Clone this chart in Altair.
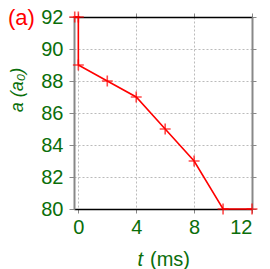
import altair as alt
import pandas as pd

t_ms = [-0.25, 0.0, 0.0, 2.0, 4.0, 6.0, 8.0, 10.0, 12.0]
a_vals = [92.0, 92.0, 89.0, 88.0, 87.0, 85.0, 83.0, 80.0, 80.0]
x_ticks = [0, 4, 8, 12]
y_ticks = [80, 82, 84, 86, 88, 90, 92]

df = pd.DataFrame({"t": t_ms, "a": a_vals, "o": list(range(len(t_ms)))})

GREEN = "#0a6e0a"
RED = "#ff0000"
FONT = "Liberation Sans"

xs = alt.Scale(domain=[-0.3, 12], nice=False, zero=False)
ys = alt.Scale(domain=[80, 92], nice=False, zero=False)

base = alt.Chart(df)

grid = base.mark_point(opacity=0).encode(
    x=alt.X("t:Q", scale=xs, axis=alt.Axis(
        values=x_ticks, title=None, labelColor=GREEN, labelFontSize=20, labelFont=FONT,
        domainColor="black", domainWidth=1.5, tickColor="#888888", tickSize=4,
        gridDash=[2, 2], gridColor="#bbbbbb", labelPadding=4)),
    y=alt.Y("a:Q", scale=ys, axis=alt.Axis(
        values=y_ticks, title=None, labelColor=GREEN, labelFontSize=20, labelFont=FONT,
        domainColor="#888888", domainWidth=2, tickColor="#888888", tickSize=5,
        gridDash=[2, 2], gridColor="#bbbbbb", labelPadding=6)),
)

top_axis = base.mark_point(opacity=0).encode(
    x=alt.X("t:Q", scale=xs, axis=alt.Axis(
        orient="top", values=x_ticks, title=None, labels=False, grid=False,
        domainColor="black", domainWidth=1.5, tickColor="#888888", tickSize=4)),
    y=alt.Y("a:Q", scale=ys, axis=None),
)
right_axis = base.mark_point(opacity=0).encode(
    x=alt.X("t:Q", scale=xs, axis=None),
    y=alt.Y("a:Q", scale=ys, axis=alt.Axis(
        orient="right", values=y_ticks, title=None, labels=False, grid=False,
        domainColor="#888888", domainWidth=2, tickColor="#888888", tickSize=4)),
)

line = base.mark_line(color=RED, strokeWidth=1.6).encode(
    x=alt.X("t:Q", scale=xs, axis=None), y=alt.Y("a:Q", scale=ys, axis=None), order="o:Q")

pts = base.mark_point(shape="M-1,0L1,0M0,-1L0,1", color=RED, filled=False,
                      strokeWidth=1.6, size=120).encode(
    x=alt.X("t:Q", scale=xs, axis=None), y=alt.Y("a:Q", scale=ys, axis=None))

lab_a = alt.Chart(pd.DataFrame({"s": ["(a)"]})).mark_text(
    color=RED, fontSize=22, font=FONT, align="left", baseline="middle").encode(
    text="s:N", x=alt.value(-66), y=alt.value(1))

ytitle = alt.Chart(pd.DataFrame({"s": ["a (a₀)"]})).mark_text(
    color=GREEN, fontSize=18, font=FONT, fontStyle="italic", angle=270,
    align="center", baseline="middle").encode(
    text="s:N", x=alt.value(-56), y=alt.value(73))

xt1 = alt.Chart(pd.DataFrame({"s": ["t"]})).mark_text(
    color=GREEN, fontSize=20, font=FONT, fontStyle="italic", align="right",
    baseline="middle").encode(text="s:N", x=alt.value(69), y=alt.value(243))
xt2 = alt.Chart(pd.DataFrame({"s": ["(ms)"]})).mark_text(
    color=GREEN, fontSize=20, font=FONT, align="left", dx=7,
    baseline="middle").encode(text="s:N", x=alt.value(69), y=alt.value(243))

chart = alt.layer(grid, top_axis, right_axis, line, pts, lab_a, ytitle, xt1, xt2).resolve_axis(
    x="independent", y="independent"
).properties(
    width=178, height=192, autosize="none",
    padding={"left": 66, "top": 9, "right": 10, "bottom": 62},
).configure_view(stroke=None)

chart.save("out.html", embed_options={"renderer": "svg", "actions": False})
